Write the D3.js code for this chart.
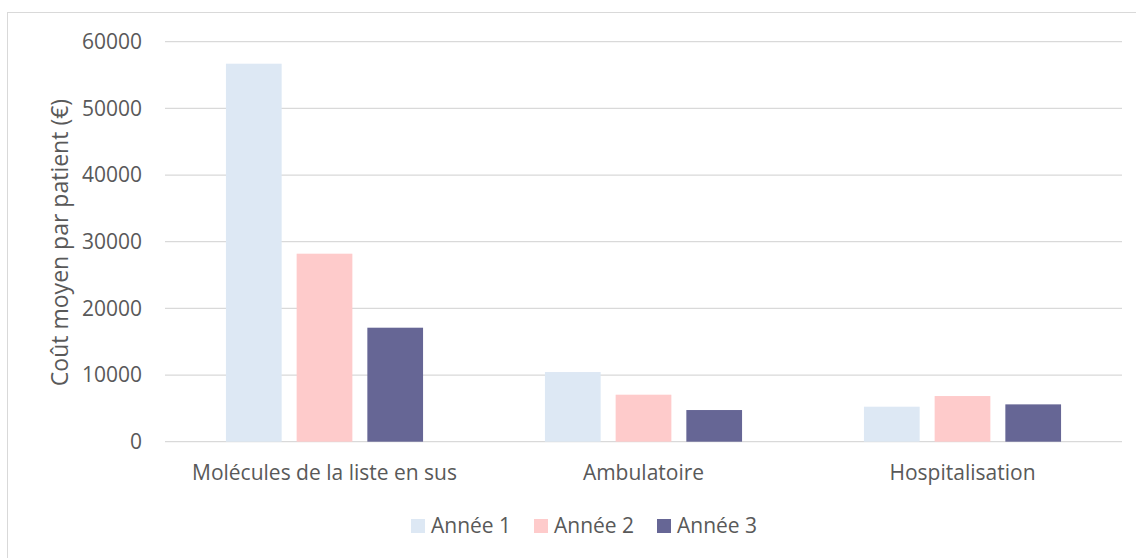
<!DOCTYPE html>
<html><head><meta charset="utf-8">
<script src="https://cdn.jsdelivr.net/npm/d3@7"></script>
<style>body{margin:0;background:#fff;} text{font-family:"Open Sans",sans-serif;fill:#595959;}</style>
</head><body>
<svg id="c" width="1136" height="558"></svg>
<script>
const categories = ["Molécules de la liste en sus", "Ambulatoire", "Hospitalisation"];
const seriesNames = ["Année 1", "Année 2", "Année 3"];
const annee1 = [56700, 10450, 5250];
const annee2 = [28200, 7050, 6850];
const annee3 = [17100, 4750, 5600];
const yTicks = [0, 10000, 20000, 30000, 40000, 50000, 60000];
const colors = ["#dde8f4", "#fecbcb", "#666695"];
const yTitle = "Coût moyen par patient (€)";

const series = [annee1, annee2, annee3];
const svg = d3.select("#c");
svg.append("rect").attr("x",7.5).attr("y",12.5).attr("width",1140).attr("height",560)
  .attr("fill","none").attr("stroke","#d9d9d9").attr("stroke-width",1);

const pLeft = 165, pRight = 1122, pTop = 41.7, pBottom = 441.7;
const x0 = d3.scaleBand().domain(categories).range([pLeft, pRight]).padding(0);
const x1 = d3.scaleBand().domain(seriesNames).range([0, x0.bandwidth()]).paddingInner(0.212).paddingOuter(0.862);
const y = d3.scaleLinear().domain([0, 60000]).range([pBottom, pTop]);

const g = svg.append("g");
g.selectAll("line.grid").data(yTicks).join("line").attr("class","grid")
  .attr("x1", pLeft).attr("x2", pRight).attr("y1", d=>y(d)).attr("y2", d=>y(d))
  .attr("stroke","#d9d9d9").attr("stroke-width",1.3);

const yAxis = d3.axisLeft(y).tickValues(yTicks).tickSize(0).tickPadding(0).tickFormat(d3.format("d"));
const ya = svg.append("g").attr("transform", `translate(142,0)`).call(yAxis);
ya.select(".domain").remove();
ya.selectAll("text").attr("font-size",21).attr("fill","#595959").style("font-family","'Open Sans',sans-serif");

series.forEach((vals, si) => {
  g.selectAll("rect.s"+si).data(vals).join("rect").attr("class","s"+si)
    .attr("x", (d,i)=> x0(categories[i]) + x1(seriesNames[si]))
    .attr("width", x1.bandwidth())
    .attr("y", d=>y(d)).attr("height", d=> y(0)-y(d))
    .attr("fill", colors[si]);
});

const xAxis = d3.axisBottom(x0).tickSize(0).tickPadding(0);
const xa = svg.append("g").attr("transform", `translate(0,480)`).call(xAxis);
xa.select(".domain").remove();
xa.selectAll("text").attr("font-size",21).attr("fill","#595959").attr("dy","0").style("font-family","'Open Sans',sans-serif");

svg.append("text").attr("transform","translate(59,242.5) rotate(-90)").attr("text-anchor","middle")
  .attr("dominant-baseline","central").attr("font-size",23).text(yTitle);

const legX = [411, 534, 657];
const leg = svg.append("g");
seriesNames.forEach((n,i)=>{
  leg.append("rect").attr("x",legX[i]).attr("y",519).attr("width",14).attr("height",14).attr("fill",colors[i]);
  leg.append("text").attr("x",legX[i]+20).attr("y",533).attr("font-size",21).text(n);
});
</script>
</body></html>
